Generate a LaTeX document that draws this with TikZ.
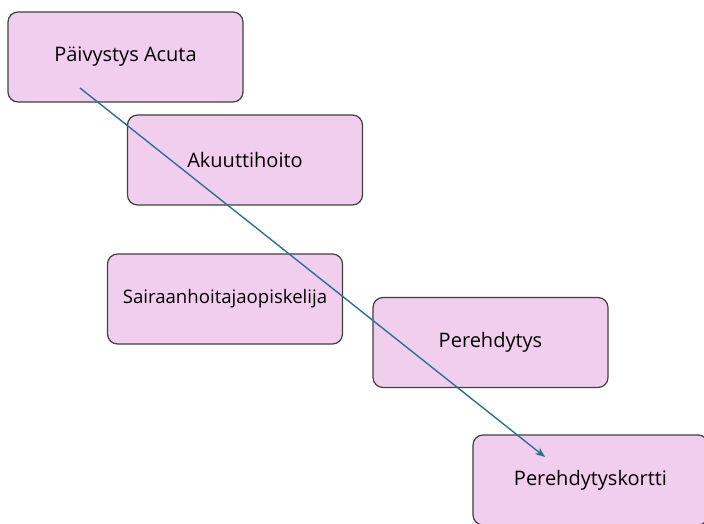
\documentclass[tikz,border=0pt]{standalone}
\usepackage{fontspec}
\setmainfont{Open Sans}
\usetikzlibrary{arrows.meta}

\definecolor{vpinkki}{HTML}{F2CEEE}
\definecolor{reuna}{HTML}{404040}
\definecolor{nuoli}{HTML}{2A7193}

\tikzset{
  kasti/.style={draw=reuna,fill=vpinkki,line width=0.6pt,rounded corners=5pt,
    minimum width=117.5pt,minimum height=45pt,font=\fontsize{10}{12}\selectfont},
}

\begin{document}
\begin{tikzpicture}[x=0.5pt,y=-0.5pt]

\clip (0,0) rectangle (704,523);
\fill[white] (0,0) rectangle (704,523);

\node[kasti] (paiv) at (125.5,57) {Päivystys Acuta};
\node[kasti] (akuu) at (245,160) {Akuuttihoito};
\node[kasti,font=\fontsize{9.3}{11}\selectfont] (sair) at (225,299) {Sairaanhoitajaopiskelija};
\node[kasti] (pere) at (490.5,342.5) {Perehdytys};
\node[kasti] (kort) at (590.5,480) {Perehdytyskortti};

\coordinate (alku) at (80,88);
\coordinate (loppu) at (545,457);
\draw[nuoli,line width=0.7pt,-{Stealth[length=5pt,width=4pt]}] (alku) -- (loppu);

\end{tikzpicture}
\end{document}
